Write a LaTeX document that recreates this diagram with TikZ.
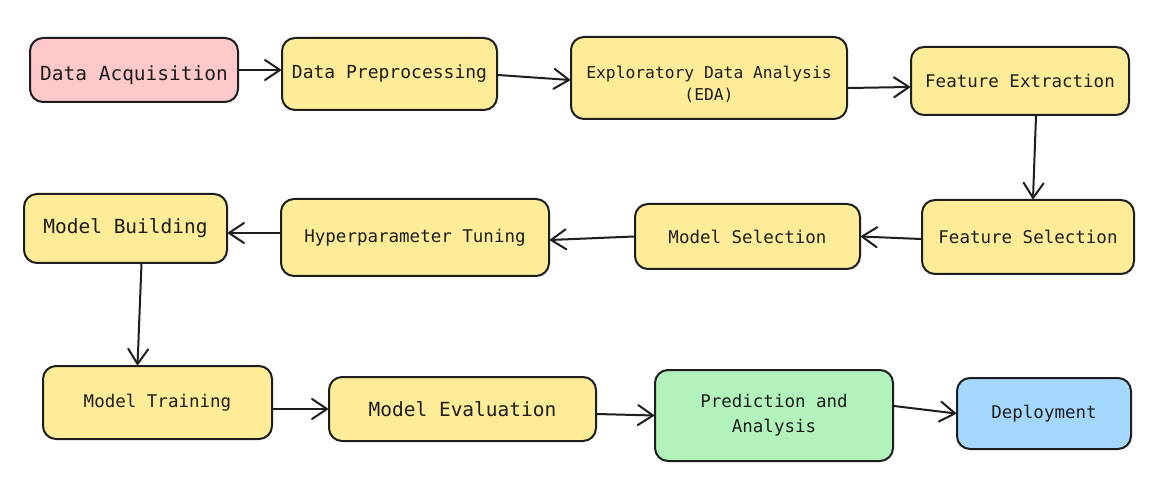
\documentclass[tikz,border=0pt]{standalone}
\usepackage{fontspec}
\setmonofont{DejaVu Sans Mono}
\usetikzlibrary{arrows.meta}
\definecolor{ink}{HTML}{1E1E1E}
\definecolor{yel}{HTML}{FFEC99}
\definecolor{pinkf}{HTML}{FFC9C9}
\definecolor{greenf}{HTML}{B2F2BB}
\definecolor{bluef}{HTML}{A5D8FF}
\tikzset{
  box/.style={draw=ink, line width=2pt, rounded corners=13pt, fill=yel, align=center,
    font=\ttfamily\fontsize{17.5}{23}\selectfont, text=ink, inner sep=0pt},
  big/.style={font=\ttfamily\fontsize{19.5}{23}\selectfont},
  mid/.style={font=\ttfamily\fontsize{16.3}{22}\selectfont},
  conn/.style={draw=ink, line width=2pt, line cap=round,
    -{Straight Barb[length=15pt,width=20pt,line width=2pt,round]}}
}
\begin{document}
\begin{tikzpicture}[x=1pt,y=-1pt]
\useasboundingbox[fill=white] (0,0) rectangle (1160,497);
\node[box, big, fill=pinkf, minimum width=208pt, minimum height=64pt] (da) at (134,70) {\rule{0pt}{25pt}Data Acquisition};
\node[box, minimum width=215pt, minimum height=72pt, font=\ttfamily\fontsize{18}{23}\selectfont] (dp) at (389.5,74) {Data Preprocessing};
\node[box, mid, minimum width=276pt, minimum height=82pt] (eda) at (709,78) {\rule{0pt}{26pt}Exploratory Data Analysis\\(EDA)};
\node[box, minimum width=218pt, minimum height=68pt] (fe) at (1020,81) {Feature Extraction};
\node[box, minimum width=212pt, minimum height=74pt] (fs) at (1028,237) {Feature Selection};
\node[box, minimum width=225pt, minimum height=65pt] (ms) at (747.5,236.5) {Model Selection};
\node[box, minimum width=268pt, minimum height=77pt] (ht) at (415,237.5) {Hyperparameter Tuning};
\node[box, big, minimum width=203pt, minimum height=69pt] (mb) at (125.5,228.5) {Model Building};
\node[box, minimum width=229pt, minimum height=73pt] (mt) at (157.5,402.5) {Model Training};
\node[box, big, minimum width=267pt, minimum height=64pt] (me) at (462.5,409) {Model Evaluation};
\node[box, fill=greenf, minimum width=238pt, minimum height=91pt] (pa) at (774,415.5) {Prediction and\\[2pt]Analysis};
\node[box, fill=bluef, minimum width=174pt, minimum height=71pt] (dep) at (1044,413.5) {Deployment};

\draw[conn] (da.east) -- (dp.west |- da.east);
\draw[conn] ([yshift=-1pt]dp.east) -- ([yshift=-2pt]eda.west);
\draw[conn] ([yshift=-10pt]eda.east) -- ([yshift=-6pt]fe.west);
\draw[conn] ([xshift=16pt]fe.south) -- ([xshift=5pt]fs.north);
\draw[conn] ([yshift=-2pt]fs.west) -- (ms.east);
\draw[conn] (ms.west) -- ([yshift=-2.5pt]ht.east);
\draw[conn] ([yshift=4.5pt]ht.west) -- ([yshift=-4.5pt]mb.east);
\draw[conn] ([xshift=16pt]mb.south) -- ([xshift=-20pt]mt.north);
\draw[conn] ([yshift=-6.5pt]mt.east) -- (me.west);
\draw[conn] ([yshift=-5pt]me.east) -- (pa.west);
\draw[conn] ([yshift=9.5pt]pa.east) -- (dep.west);
\end{tikzpicture}
\end{document}
